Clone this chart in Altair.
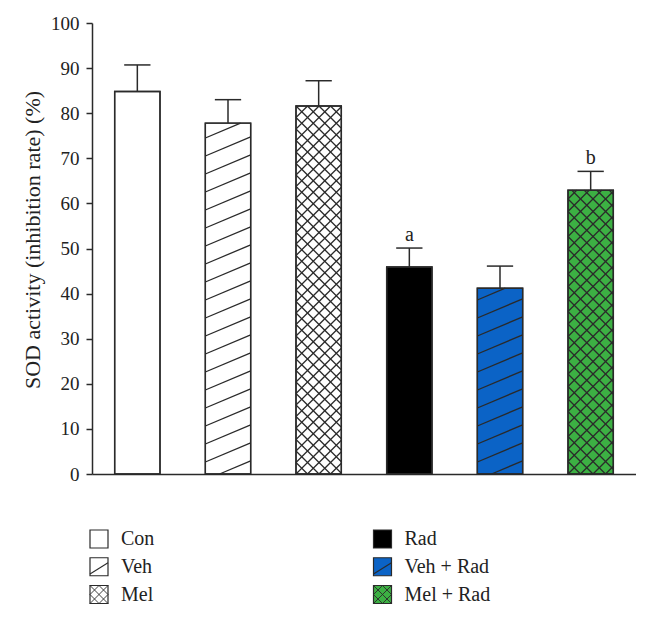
import altair as alt
import pandas as pd

# ---------------- data ----------------
groups = ["Con", "Veh", "Mel", "Rad", "Veh + Rad", "Mel + Rad"]
values = [84.8, 77.8, 81.6, 45.9, 41.2, 62.9]
errors = [5.9, 5.2, 5.6, 4.2, 4.9, 4.2]
letters = ["", "", "", "a", "", "b"]
fills = ["#ffffff", "#ffffff", "#ffffff", "#000000", "#0b63c6", "#3cb043"]
patterns = ["none", "diag", "cross", "none", "diag", "cross"]
cross_period = [0, 0, 11.5, 0, 0, 12.5]
y_ticks = [0, 10, 20, 30, 40, 50, 60, 70, 80, 90, 100]
legend_col = [0, 0, 0, 1, 1, 1]
legend_row = [0, 1, 2, 0, 1, 2]
y_title = "SOD activity (inhibition rate) (%)"

# ---------------- geometry / styling ----------------
W, H = 544, 451
X_DOMAIN = [0.5, 6.5]
KX = W / (X_DOMAIN[1] - X_DOMAIN[0])
KY = H / 100.0
HALF = 0.25
CAP = 0.145
FONT = "Liberation Serif"
INK = "#2a2a2a"

positions = list(range(1, len(groups) + 1))
bars = pd.DataFrame({
    "group": groups,
    "pos": positions,
    "x0": [p - HALF for p in positions],
    "x1": [p + HALF for p in positions],
    "val": values,
    "top": [v + e for v, e in zip(values, errors)],
    "c0": [p - CAP for p in positions],
    "c1": [p + CAP for p in positions],
    "fill": fills,
    "letter": letters,
})


def clip_lines(left, height_val, slope, offsets):
    w = 2 * HALF * KX
    h = height_val * KY
    segs = []
    for c in offsets:
        t1 = (0 - c) / slope
        t2 = (h - c) / slope
        lo = max(0.0, min(t1, t2))
        hi = min(w, max(t1, t2))
        if hi - lo > 0.5:
            segs.append((left + lo / KX, (slope * lo + c) / KY,
                         left + hi / KX, (slope * hi + c) / KY))
    return segs


hatch_rows = []
for i, pat in enumerate(patterns):
    left = positions[i] - HALF
    h_px = values[i] * KY
    if pat == "diag":
        slope = 19.0 / 45.0
        step = 18.0
        offs = [-6 + k * step for k in range(-3, int(h_px / step) + 3)]
        segs = clip_lines(left, values[i], slope, offs)
    elif pat == "cross":
        p = cross_period[i]
        w_px = 2 * HALF * KX
        offs = [k * p for k in range(-int(w_px / p) - 3, int((h_px + w_px) / p) + 3)]
        segs = clip_lines(left, values[i], 1.0, offs) + clip_lines(left, values[i], -1.0, offs)
    else:
        segs = []
    for s in segs:
        hatch_rows.append({"hx": s[0], "hy": s[1], "hx2": s[2], "hy2": s[3],
                           "group": groups[i]})
hatch = pd.DataFrame(hatch_rows)

# legend symbol hatch paths (unit square -1..1)
diag_path = "M-1,0.8L1,-0.45"
cross_parts = []
for c in [-1, 0, 1]:
    pts = [(x, c - x) for x in (-1, 1) if -1 <= c - x <= 1] + \
          [(c - y, y) for y in (-1, 1) if -1 <= c - y <= 1]
    pts = sorted(set(pts))
    if len(pts) >= 2:
        cross_parts.append("M%g,%gL%g,%g" % (pts[0][0], pts[0][1], pts[-1][0], pts[-1][1]))
    pts = [(x, x - c) for x in (-1, 1) if -1 <= x - c <= 1] + \
          [(y + c, y) for y in (-1, 1) if -1 <= y + c <= 1]
    pts = sorted(set(pts))
    if len(pts) >= 2:
        cross_parts.append("M%g,%gL%g,%g" % (pts[0][0], pts[0][1], pts[-1][0], pts[-1][1]))
cross_path = "".join(cross_parts)

legend_df = pd.DataFrame({
    "label": groups,
    "lc": legend_col,
    "lr": legend_row,
    "fill": fills,
    "pattern": patterns,
})

# ---------------- main plot ----------------
xs = alt.Scale(domain=X_DOMAIN, nice=False, zero=False)
ys = alt.Scale(domain=[0, 100], nice=False)

x_axis = alt.Axis(labels=False, ticks=False, title="", grid=False,
                  domain=True, domainColor=INK, domainWidth=1.5)
y_axis = alt.Axis(values=y_ticks, title=y_title, grid=False,
                  domainColor=INK, domainWidth=1.5, tickColor=INK, tickWidth=1.5,
                  tickSize=6, labelPadding=7, labelFont=FONT, labelFontSize=19,
                  labelColor="#222", titleFont=FONT, titleFontSize=22,
                  titleFontWeight="normal", titleColor="#222", titlePadding=6,
                  titleY=216.5)


def X(field):
    return alt.X(field, scale=xs, axis=x_axis, title="")


def Y(field):
    return alt.Y(field, scale=ys, axis=y_axis, title=y_title)


base = alt.Chart(bars)

bar_fill = base.mark_rect(stroke=INK, strokeWidth=1.4).encode(
    x=X("x0:Q"), x2="x1:Q",
    y=Y("val:Q"), y2=alt.datum(0),
    fill=alt.Fill("fill:N", scale=None),
)

hatch_layer = alt.Chart(hatch).mark_rule(color=INK, strokeWidth=1.3).encode(
    x=X("hx:Q"), x2="hx2:Q",
    y=Y("hy:Q"), y2="hy2:Q",
)

bar_outline = base.mark_rect(fillOpacity=0, stroke=INK, strokeWidth=1.4).encode(
    x=X("x0:Q"), x2="x1:Q",
    y=Y("val:Q"), y2=alt.datum(0),
)

err_v = base.mark_rule(color=INK, strokeWidth=1.5).encode(
    x=X("pos:Q"),
    y=Y("val:Q"), y2="top:Q",
)

err_cap = base.mark_rule(color=INK, strokeWidth=1.5).encode(
    x=X("c0:Q"), x2="c1:Q",
    y=Y("top:Q"),
)

letter_text = base.mark_text(font=FONT, fontSize=20, baseline="bottom", dy=-3,
                             color="#222").encode(
    x=X("pos:Q"),
    y=Y("top:Q"),
    text="letter:N",
)

main = alt.layer(bar_fill, hatch_layer, bar_outline, err_v, err_cap, letter_text)

# ---------------- legend (below plot) ----------------
lxs = alt.Scale(domain=[0, 1], range=[7, 290.5])
lys = alt.Scale(domain=[0, 2], range=[516, 571.5])
lbase = alt.Chart(legend_df)

leg_sq = lbase.mark_point(shape="square", size=324, filled=True, stroke=INK,
                          strokeWidth=1.2, opacity=1).encode(
    x=alt.X("lc:Q", scale=lxs, axis=None),
    y=alt.Y("lr:Q", scale=lys, axis=None),
    fill=alt.Fill("fill:N", scale=None),
)

leg_diag = lbase.transform_filter(alt.datum.pattern == "diag").mark_point(
    shape=diag_path, size=324, filled=False, stroke=INK, strokeWidth=1.1, opacity=1).encode(
    x=alt.X("lc:Q", scale=lxs, axis=None),
    y=alt.Y("lr:Q", scale=lys, axis=None),
)

leg_cross = lbase.transform_filter(alt.datum.pattern == "cross").mark_point(
    shape=cross_path, size=324, filled=False, stroke=INK, strokeWidth=0.9, opacity=1).encode(
    x=alt.X("lc:Q", scale=lxs, axis=None),
    y=alt.Y("lr:Q", scale=lys, axis=None),
)

leg_text = lbase.mark_text(font=FONT, fontSize=20, align="left", baseline="middle",
                           dx=22, color="#222").encode(
    x=alt.X("lc:Q", scale=lxs, axis=None),
    y=alt.Y("lr:Q", scale=lys, axis=None),
    text="label:N",
)

legend = alt.layer(leg_sq, leg_diag, leg_cross, leg_text)

chart = alt.layer(main, legend).resolve_scale(
    x="independent", y="independent"
).resolve_axis(
    x="independent", y="independent"
).properties(
    width=W, height=H,
    background="white",
    autosize=alt.AutoSizeParams(type="none"),
    padding={"left": 84, "top": 15, "right": 0, "bottom": 131},
).configure_view(strokeWidth=0)

chart.save("out.html", embed_options={"renderer": "svg", "actions": False})
